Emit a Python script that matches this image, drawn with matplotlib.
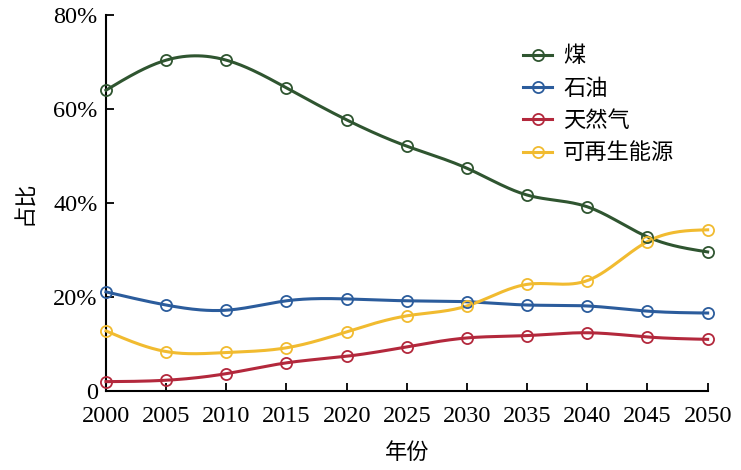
import numpy as np
import matplotlib
matplotlib.use("Agg")
import matplotlib.pyplot as plt
from matplotlib.ticker import FuncFormatter

# 数据
years = [2000, 2005, 2010, 2015, 2020, 2025, 2030, 2035, 2040, 2045, 2050]
coal = [64.0, 70.4, 70.4, 64.5, 57.7, 52.1, 47.4, 41.7, 39.2, 32.8, 29.6]
oil = [21.1, 18.3, 17.2, 19.2, 19.6, 19.2, 19.0, 18.3, 18.1, 17.0, 16.6]
gas = [2.0, 2.3, 3.7, 6.0, 7.4, 9.4, 11.3, 11.8, 12.4, 11.5, 11.0]
renew = [12.8, 8.4, 8.2, 9.2, 12.6, 16.0, 18.1, 22.7, 23.5, 31.8, 34.3]
labels = ["煤", "石油", "天然气", "可再生能源"]
colors = ["#2f5530", "#2b5c9c", "#b3283c", "#f1bb30"]

serif = "Liberation Serif"
cjk = ["Noto Sans CJK SC", "DejaVu Sans"]


def spline(x, y, n=300):
    # 自然三次样条，仅用于画平滑曲线
    x = np.asarray(x, float)
    y = np.asarray(y, float)
    k = len(x)
    h = np.diff(x)
    A = np.zeros((k, k))
    b = np.zeros(k)
    A[0, 0] = A[-1, -1] = 1
    for i in range(1, k - 1):
        A[i, i - 1] = h[i - 1]
        A[i, i] = 2 * (h[i - 1] + h[i])
        A[i, i + 1] = h[i]
        b[i] = 6 * ((y[i + 1] - y[i]) / h[i] - (y[i] - y[i - 1]) / h[i - 1])
    m = np.linalg.solve(A, b)
    xs = np.linspace(x[0], x[-1], n)
    idx = np.clip(np.searchsorted(x, xs) - 1, 0, k - 2)
    x0, x1 = x[idx], x[idx + 1]
    hh = x1 - x0
    t0, t1 = x1 - xs, xs - x0
    ys = (m[idx] * t0 ** 3 + m[idx + 1] * t1 ** 3) / (6 * hh) \
        + (y[idx] / hh - m[idx] * hh / 6) * t0 \
        + (y[idx + 1] / hh - m[idx + 1] * hh / 6) * t1
    return xs, ys


fig = plt.figure(figsize=(7.41, 4.70), dpi=100)
ax = fig.add_axes([0.143, 0.168, 0.812, 0.800])

for vals, lab, c in zip([coal, oil, gas, renew], labels, colors):
    xs, ys = spline(years, vals)
    ax.plot(xs, ys, color=c, lw=2.2, clip_on=False, zorder=3)
    ax.plot(years, vals, linestyle="none", marker="o", ms=8, mfc="none",
            mec=c, mew=1.3, clip_on=False, zorder=4)
    ax.plot([], [], color=c, lw=2.2, marker="o", ms=8, mfc="none", mec=c,
            mew=1.3, label=lab)

ax.set_xlim(2000, 2050)
ax.set_ylim(0, 80)
ax.set_xticks(years)
ax.set_yticks([0, 20, 40, 60, 80])
ax.yaxis.set_major_formatter(FuncFormatter(lambda v, p: "0" if v == 0 else f"{v:.0f}%"))

for s in ["top", "right"]:
    ax.spines[s].set_visible(False)
for s in ["left", "bottom"]:
    ax.spines[s].set_linewidth(1.5)
ax.tick_params(direction="in", length=6, width=1.3, labelsize=17.5)
ax.tick_params(axis="x", pad=11)
ax.tick_params(axis="y", pad=6)
for t in ax.get_xticklabels() + ax.get_yticklabels():
    t.set_fontfamily(serif)

ax.set_xlabel("年份", fontsize=16, family=cjk, labelpad=10)
ax.set_ylabel("占比", fontsize=16, family=cjk, labelpad=12)

leg = ax.legend(loc="upper left", bbox_to_anchor=(0.66, 0.975), frameon=False,
                prop={"family": cjk, "size": 16}, handlelength=1.3,
                handletextpad=0.5, labelspacing=0.42, numpoints=1)

fig.savefig("out.png", dpi=100)
